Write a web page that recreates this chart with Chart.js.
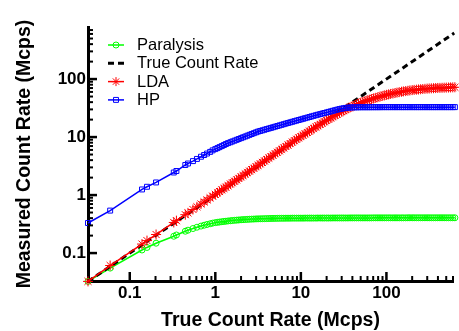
<!DOCTYPE html>
<html><head><meta charset="utf-8">
<script src="https://cdn.jsdelivr.net/npm/chart.js@4.4.1/dist/chart.umd.min.js"></script>
<style>html,body{margin:0;padding:0;background:#fff;}#wrap{width:459px;height:331px;}</style>
</head><body><div id="wrap"><canvas id="c" width="459" height="331"></canvas></div>
<script>
// True count rate (x, Mcps), shared by all measured series
const trueRate = [0.0325,0.059,0.139,0.159,0.203,0.327,0.351,0.446,0.479,0.548,0.61,0.68,0.74,0.8,0.87,0.93,
  1,1.06,1.12,1.19,1.26,1.33,1.41,1.5,1.58,1.68,
  1.78,1.88,2,2.11,2.24,2.37,2.51,2.66,2.82,2.99,
  3.16,3.35,3.55,3.76,3.98,4.22,4.47,4.73,5.01,5.31,
  5.62,5.96,6.31,6.68,7.08,7.5,7.94,8.41,8.91,9.44,
  10,10.6,11.2,11.9,12.6,13.3,14.1,15,15.8,16.8,
  17.8,18.8,20,21.1,22.4,23.7,25.1,26.6,28.2,29.9,
  31.6,33.5,35.5,37.6,39.8,42.2,44.7,47.3,50.1,53.1,
  56.2,59.6,63.1,66.8,70.8,75,79.4,84.1,89.1,94.4,
  100,106,112,119,126,133,141,150,158,168,
  178,188,200,211,224,237,251,266,282,299,
  316,335,355,376,398,422,447,473,501,531,
  562,596,631];
const paralysis = [0.0325,0.055,0.113,0.125,0.148,0.195,0.205,0.238,0.248,0.265,0.279,0.292,0.302,0.311,0.32,0.328,
  0.335,0.339,0.343,0.347,0.351,0.354,0.358,0.361,0.364,0.367,
  0.370,0.372,0.375,0.377,0.379,0.381,0.383,0.385,0.386,0.388,
  0.389,0.390,0.391,0.392,0.393,0.394,0.395,0.396,0.396,0.397,
  0.397,0.398,0.398,0.399,0.399,0.399,0.400,0.400,0.400,0.400,
  0.400,0.400,0.401,0.401,0.401,0.401,0.401,0.401,0.402,0.402,
  0.402,0.402,0.402,0.402,0.402,0.403,0.403,0.403,0.403,0.403,
  0.403,0.403,0.403,0.404,0.404,0.404,0.404,0.404,0.404,0.404,
  0.404,0.404,0.404,0.404,0.405,0.405,0.405,0.405,0.405,0.405,
  0.405,0.405,0.405,0.405,0.405,0.405,0.405,0.405,0.405,0.405,
  0.406,0.406,0.406,0.406,0.406,0.406,0.406,0.406,0.406,0.406,
  0.406,0.406,0.406,0.406,0.406,0.406,0.406,0.406,0.406,0.406,
  0.406,0.406,0.406];
const lda = [0.0325,0.061,0.143,0.164,0.209,0.337,0.362,0.459,0.493,0.564,0.628,0.70,0.762,0.824,0.896,0.958,
  1.03,1.09,1.15,1.23,1.30,1.37,1.45,1.55,1.63,1.73,
  1.83,1.94,2.06,2.17,2.31,2.44,2.59,2.74,2.90,3.08,
  3.25,3.45,3.66,3.87,4.10,4.35,4.60,4.87,5.16,5.47,
  5.79,6.14,6.50,6.88,7.29,7.72,8.18,8.65,9.16,9.70,
  10.2,10.76,11.36,11.99,12.65,13.36,14.09,14.87,15.68,16.53,
  17.42,18.37,19.36,20.34,21.38,22.46,23.6,24.80,26.06,27.40,
  28.59,29.83,31.13,32.49,33.89,35.12,36.38,37.70,39.05,40.27,
  41.54,42.86,44.0,45.13,46.30,47.5,48.64,49.82,51.02,52.25,
  53.5,54.45,55.41,56.38,57.37,58.39,59.41,60.46,61.25,62.04,
  62.84,63.65,64.47,65.04,65.60,66.16,66.73,67.30,67.88,68.46,
  68.84,69.20,69.56,69.93,70.28,70.53,70.77,71.01,71.25,71.49,
  71.72,71.97,72.2];
const hp = [0.33,0.54,1.25,1.39,1.65,2.45,2.6,3.3,3.5,3.85,4.2,4.58,4.9,5.2,5.55,5.9,
  6.2,6.45,6.71,6.99,7.28,7.58,7.87,8.13,8.40,8.68,
  8.97,9.27,9.58,9.90,10.23,10.57,10.93,11.29,11.67,12.06,
  12.44,12.75,13.06,13.39,13.72,14.06,14.40,14.76,15.12,15.50,
  15.88,16.27,16.67,17.09,17.51,17.93,18.35,18.79,19.24,19.70,
  20.17,20.65,21.14,21.65,22.17,22.70,23.24,23.80,24.32,24.87,
  25.43,26.00,26.59,27.18,27.79,28.41,29.04,29.70,30.36,30.9,
  31.4,31.8,32.1,32.3,32.45,32.55,32.6,32.65,32.7,32.7,
  32.7,32.7,32.7,32.75,32.75,32.75,32.75,32.75,32.8,32.8,
  32.8,32.8,32.8,32.8,32.8,32.8,32.8,32.8,32.8,32.8,
  32.8,32.8,32.8,32.8,32.8,32.8,32.8,32.8,32.8,32.8,
  32.8,32.8,32.8,32.8,32.8,32.8,32.8,32.8,32.8,32.8,
  32.8,32.8,32.8];
const trueLineX = [0.0325, 620];
const trueLineY = [0.0325, 620];
const xTickLabels = ['0.1','1','10','100'];
const yTickLabels = ['0.1','1','10','100'];
const seriesNames = ['Paralysis','True Count Rate','LDA','HP'];
const seriesColors = ['#00ff00','#000000','#ff0000','#0000ff'];

const FONT = "'Liberation Sans', Arial, sans-serif";
const pts = (xs, ys) => xs.map((x, i) => ({x: x, y: ys[i]}));
const powLabel = v => {
  const l = Math.log10(v);
  if (Math.abs(l - Math.round(l)) > 1e-6) return '';
  return String(Math.pow(10, Math.round(l)));
};

const tickPlugin = {
  id: 'inTicks',
  afterDraw(chart) {
    const {ctx, chartArea} = chart;
    const isMajor = v => { const l = Math.log10(v); return Math.abs(l - Math.round(l)) < 1e-6; };
    const isNice = v => { const m = v / Math.pow(10, Math.floor(Math.log10(v) + 1e-9)); return Math.abs(m - Math.round(m)) < 1e-6; };
    ctx.save();
    ctx.strokeStyle = '#000';
    chart.scales.x.ticks.forEach(t => {
      const v = t.value; if (v < 0.0999 || !isNice(v)) return;
      const p = chart.scales.x.getPixelForValue(v); const mj = isMajor(v);
      ctx.lineWidth = mj ? 2.5 : 2;
      ctx.beginPath(); ctx.moveTo(p, chartArea.bottom); ctx.lineTo(p, chartArea.bottom - (mj ? 9 : 5)); ctx.stroke();
    });
    chart.scales.y.ticks.forEach(t => {
      const v = t.value; if (v < 0.0999 || !isNice(v)) return;
      const p = chart.scales.y.getPixelForValue(v); const mj = isMajor(v);
      ctx.lineWidth = mj ? 2.5 : 2;
      ctx.beginPath(); ctx.moveTo(chartArea.left, p); ctx.lineTo(chartArea.left + (mj ? 9 : 5), p); ctx.stroke();
    });
    ctx.restore();
  }
};

const legendPlugin = {
  id: 'insideLegend',
  afterDraw(chart) {
    const {ctx, chartArea} = chart;
    const x0 = chartArea.left + 20, x1 = chartArea.left + 36, xm = chartArea.left + 28, xt = chartArea.left + 49;
    const y0 = chartArea.top + 18, dy = 18.3;
    const styles = [
      {ps: 'circle', r: 3},
      {ps: false, r: 0},
      {ps: 'star', r: 4.5},
      {ps: 'rect', r: 3.5}
    ];
    ctx.save();
    seriesNames.forEach((name, i) => {
      const y = y0 + i * dy;
      ctx.strokeStyle = seriesColors[i];
      if (i === 1) {
        ctx.lineWidth = 3; ctx.setLineDash([6, 4]);
      } else {
        ctx.lineWidth = 1.5; ctx.setLineDash([]);
      }
      ctx.beginPath(); ctx.moveTo(x0, y); ctx.lineTo(x1, y); ctx.stroke();
      ctx.setLineDash([]);
      if (styles[i].ps) {
        ctx.lineWidth = 1; ctx.fillStyle = 'rgba(0,0,0,0)';
        Chart.helpers.drawPoint(ctx, {pointStyle: styles[i].ps, radius: styles[i].r, borderWidth: 1, rotation: 0}, xm, y);
      }
      ctx.fillStyle = '#000';
      ctx.font = '16.5px ' + FONT;
      ctx.textBaseline = 'middle'; ctx.textAlign = 'left';
      ctx.fillText(name, xt, y + 0.5);
    });
    ctx.restore();
  }
};

new Chart(document.getElementById('c'), {
  type: 'line',
  data: {
    datasets: [
      {label: seriesNames[0], data: pts(trueRate, paralysis), borderColor: seriesColors[0], borderWidth: 1.5,
       pointStyle: 'circle', pointRadius: 3, pointBorderWidth: 1, pointBorderColor: seriesColors[0],
       pointBackgroundColor: 'rgba(0,0,0,0)', order: 3},
      {label: seriesNames[1], data: pts(trueLineX, trueLineY), borderColor: seriesColors[1], borderWidth: 3,
       borderDash: [6, 4], pointRadius: 0, order: 2},
      {label: seriesNames[2], data: pts(trueRate, lda), borderColor: seriesColors[2], borderWidth: 1.5,
       pointStyle: 'star', pointRadius: 5, pointBorderWidth: 1, pointBorderColor: seriesColors[2],
       pointBackgroundColor: 'rgba(0,0,0,0)', order: 1},
      {label: seriesNames[3], data: pts(trueRate, hp), borderColor: seriesColors[3], borderWidth: 1.5,
       pointStyle: 'rect', pointRadius: 3.5, pointBorderWidth: 1, pointBorderColor: seriesColors[3],
       pointBackgroundColor: 'rgba(0,0,0,0)', order: 0}
    ]
  },
  options: {
    responsive: false, animation: false, devicePixelRatio: 1,
    clip: false,
    layout: {padding: {top: 27, left: 0, right: 0, bottom: 0}},
    elements: {line: {tension: 0}},
    plugins: {legend: {display: false}, tooltip: {enabled: false}},
    scales: {
      x: {
        type: 'logarithmic', position: 'bottom', min: 0.0325, max: 600,
        grid: {display: true, drawOnChartArea: false, drawTicks: false},
        border: {display: true, color: '#000', width: 3},
        ticks: {autoSkip: false, maxRotation: 0, padding: 2, color: '#000',
          font: {family: FONT, size: 17, weight: 'bold'},
          callback: v => { const s = powLabel(v); return xTickLabels.includes(s) ? s : ''; }},
        title: {display: true, text: 'True Count Rate (Mcps)', color: '#000',
          font: {family: FONT, size: 19.5, weight: 'bold', lineHeight: 1}, padding: {top: 0, bottom: 1}},
        afterFit: s => { s.height = 50; }
      },
      y: {
        type: 'logarithmic', position: 'left', min: 0.033, max: 790,
        grid: {display: true, drawOnChartArea: false, drawTicks: false},
        border: {display: true, color: '#000', width: 3},
        ticks: {autoSkip: false, padding: 2, color: '#000',
          font: {family: FONT, size: 17, weight: 'bold'},
          callback: v => { const s = powLabel(v); return yTickLabels.includes(s) ? s : ''; }},
        title: {display: true, text: 'Measured Count Rate (Mcps)', color: '#000',
          font: {family: FONT, size: 19.5, weight: 'bold', lineHeight: 1}, padding: {top: 15, bottom: 0}},
        afterFit: s => { s.width = 88; }
      }
    }
  },
  plugins: [tickPlugin, legendPlugin]
});
</script></body></html>
